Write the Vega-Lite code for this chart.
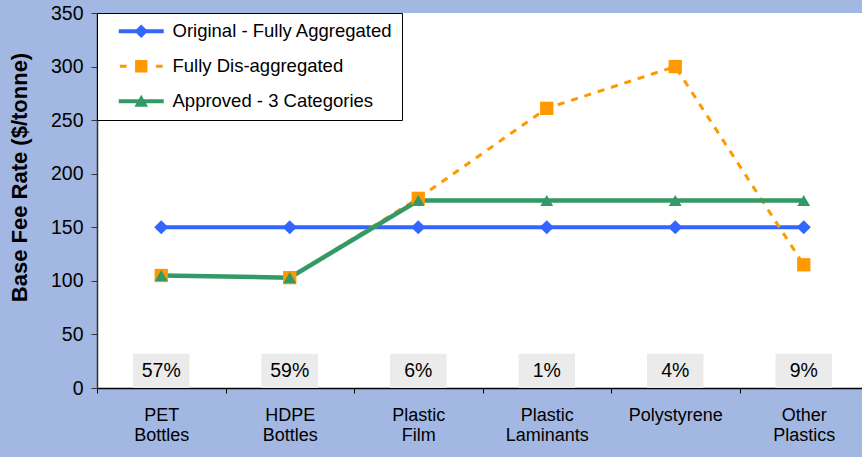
{
  "$schema": "https://vega.github.io/schema/vega-lite/v6.json",
  "width": 765,
  "height": 375,
  "autosize": {"type": "none"},
  "padding": {"left": 97, "top": 13, "right": 0, "bottom": 69},
  "background": "#a2b8e2",
  "datasets": {
    "rates": [
      {"category": "PET Bottles", "series": "Original - Fully Aggregated", "value": 150},
      {"category": "HDPE Bottles", "series": "Original - Fully Aggregated", "value": 150},
      {"category": "Plastic Film", "series": "Original - Fully Aggregated", "value": 150},
      {"category": "Plastic Laminants", "series": "Original - Fully Aggregated", "value": 150},
      {"category": "Polystyrene", "series": "Original - Fully Aggregated", "value": 150},
      {"category": "Other Plastics", "series": "Original - Fully Aggregated", "value": 150},
      {"category": "PET Bottles", "series": "Fully Dis-aggregated", "value": 105},
      {"category": "HDPE Bottles", "series": "Fully Dis-aggregated", "value": 103},
      {"category": "Plastic Film", "series": "Fully Dis-aggregated", "value": 177},
      {"category": "Plastic Laminants", "series": "Fully Dis-aggregated", "value": 261},
      {"category": "Polystyrene", "series": "Fully Dis-aggregated", "value": 300},
      {"category": "Other Plastics", "series": "Fully Dis-aggregated", "value": 115},
      {"category": "PET Bottles", "series": "Approved - 3 Categories", "value": 105},
      {"category": "HDPE Bottles", "series": "Approved - 3 Categories", "value": 103},
      {"category": "Plastic Film", "series": "Approved - 3 Categories", "value": 175},
      {"category": "Plastic Laminants", "series": "Approved - 3 Categories", "value": 175},
      {"category": "Polystyrene", "series": "Approved - 3 Categories", "value": 175},
      {"category": "Other Plastics", "series": "Approved - 3 Categories", "value": 175}
    ],
    "shares": [
      {"category": "PET Bottles", "share": "57%"},
      {"category": "HDPE Bottles", "share": "59%"},
      {"category": "Plastic Film", "share": "6%"},
      {"category": "Plastic Laminants", "share": "1%"},
      {"category": "Polystyrene", "share": "4%"},
      {"category": "Other Plastics", "share": "9%"}
    ]
  },
  "config": {
    "view": {"stroke": null, "fill": "white"},
    "font": "Liberation Sans",
    "axisX": {
      "labelExpr": "split(datum.label, ' ')",
      "labelFont": "Liberation Sans",
      "labelFontSize": 18,
      "labelColor": "black",
      "labelLineHeight": 20,
      "labelPadding": 13,
      "labelAngle": 0,
      "labelOverlap": false,
      "tickSize": 5,
      "tickBand": "extent",
      "tickColor": "black",
      "domainColor": "black",
      "domainWidth": 1.5,
      "grid": false
    },
    "axisY": {
      "labelFont": "Liberation Sans",
      "labelFontSize": 19.5,
      "labelColor": "black",
      "labelPadding": 8,
      "tickSize": 6,
      "tickColor": "#333",
      "domainColor": "#333",
      "domainWidth": 1.5,
      "grid": false,
      "values": [0, 50, 100, 150, 200, 250, 300, 350],
      "titleFont": "Liberation Sans",
      "titleFontSize": 22,
      "titleFontWeight": "bold",
      "titleColor": "black",
      "titleX": -78,
      "titleY": 164,
      "titleAlign": "center",
      "titleBaseline": "middle",
      "titleAngle": 270
    }
  },
  "layer": [
    {
      "data": {"name": "shares"},
      "mark": {"type": "bar", "width": {"band": 0.44}, "fill": "#ebebeb"},
      "encoding": {
        "x": {"field": "category", "type": "nominal", "title": null, "sort": null,
              "scale": {"domain": ["PET Bottles", "HDPE Bottles", "Plastic Film", "Plastic Laminants", "Polystyrene", "Other Plastics"], "range": [0, 771], "paddingInner": 0, "paddingOuter": 0}},
        "y": {"datum": 0, "type": "quantitative", "title": "Base Fee Rate ($/tonne)", "scale": {"domain": [0, 350], "nice": false}},
        "y2": {"datum": 32}
      }
    },
    {
      "data": {"name": "shares"},
      "mark": {"type": "text", "font": "Liberation Sans", "fontSize": 19.5, "color": "black", "baseline": "middle"},
      "encoding": {
        "x": {"field": "category", "type": "nominal", "title": null, "sort": null},
        "y": {"datum": 16, "type": "quantitative", "title": "Base Fee Rate ($/tonne)"},
        "text": {"field": "share"}
      }
    },
    {
      "mark": {"type": "rule", "color": "#555", "strokeWidth": 1.5},
      "encoding": {"y": {"datum": 350, "type": "quantitative", "title": "Base Fee Rate ($/tonne)"}}
    },
    {
      "data": {"name": "rates"},
      "transform": [{"filter": "datum.series === 'Original - Fully Aggregated'"}],
      "mark": {"type": "line", "strokeWidth": 4},
      "encoding": {
        "x": {"field": "category", "type": "nominal", "title": null, "sort": null},
        "y": {"field": "value", "type": "quantitative", "title": "Base Fee Rate ($/tonne)"},
        "color": {
          "field": "series", "type": "nominal",
          "scale": {"domain": ["Original - Fully Aggregated", "Fully Dis-aggregated", "Approved - 3 Categories"], "range": ["#3366ff", "#ff9900", "#339966"]},
          "legend": {
            "title": null,
            "orient": "top-left",
            "offset": 0,
            "fillColor": "white",
            "strokeColor": "black",
            "padding": 9,
            "rowPadding": 16,
            "symbolType": "square",
            "symbolSize": 169,
            "symbolOffset": 26,
            "labelOffset": 22,
            "labelFont": "Liberation Sans",
            "labelFontSize": 18.5,
            "labelColor": "black",
            "labelLimit": 400,
            "encode": {
              "symbols": {
                "update": {
                  "shape": {"signal": "datum.value === 'Original - Fully Aggregated' ? 'M-3.46,-0.3H3.46V0.3H-3.46Z M0,-1.05L1.05,0L0,1.05L-1.05,0Z' : datum.value === 'Fully Dis-aggregated' ? 'M-3.3,-0.22H-2.25V0.22H-3.3Z M2.25,-0.22H3.3V0.22H2.25Z M-0.95,-0.95H0.95V0.95H-0.95Z' : 'M-3.46,-0.3H3.46V0.3H-3.46Z M0,-1L1.05,0.85L-1.05,0.85Z'"},
                  "fill": {"signal": "scale('color', datum.value)"},
                  "fillOpacity": {"value": 1},
                  "opacity": {"value": 1},
                  "strokeWidth": {"value": 0}
                }
              }
            }
          }
        }
      }
    },
    {
      "data": {"name": "rates"},
      "transform": [{"filter": "datum.series === 'Fully Dis-aggregated'"}],
      "mark": {"type": "line", "strokeWidth": 3, "strokeDash": [7, 7]},
      "encoding": {
        "x": {"field": "category", "type": "nominal", "title": null, "sort": null},
        "y": {"field": "value", "type": "quantitative", "title": "Base Fee Rate ($/tonne)"},
        "color": {"field": "series", "type": "nominal"}
      }
    },
    {
      "data": {"name": "rates"},
      "transform": [{"filter": "datum.series === 'Approved - 3 Categories'"}],
      "mark": {"type": "line", "strokeWidth": 4.5},
      "encoding": {
        "x": {"field": "category", "type": "nominal", "title": null, "sort": null},
        "y": {"field": "value", "type": "quantitative", "title": "Base Fee Rate ($/tonne)"},
        "color": {"field": "series", "type": "nominal"}
      }
    },
    {
      "data": {"name": "rates"},
      "transform": [{"filter": "datum.series === 'Original - Fully Aggregated'"}],
      "mark": {"type": "point", "filled": true, "opacity": 1, "shape": "diamond", "size": 200},
      "encoding": {
        "x": {"field": "category", "type": "nominal", "title": null, "sort": null},
        "y": {"field": "value", "type": "quantitative", "title": "Base Fee Rate ($/tonne)"},
        "color": {"field": "series", "type": "nominal"}
      }
    },
    {
      "data": {"name": "rates"},
      "transform": [{"filter": "datum.series === 'Fully Dis-aggregated'"}],
      "mark": {"type": "point", "filled": true, "opacity": 1, "shape": "square", "size": 177},
      "encoding": {
        "x": {"field": "category", "type": "nominal", "title": null, "sort": null},
        "y": {"field": "value", "type": "quantitative", "title": "Base Fee Rate ($/tonne)"},
        "color": {"field": "series", "type": "nominal"}
      }
    },
    {
      "data": {"name": "rates"},
      "transform": [{"filter": "datum.series === 'Approved - 3 Categories'"}],
      "mark": {"type": "point", "filled": true, "opacity": 1, "shape": "triangle-up", "size": 165},
      "encoding": {
        "x": {"field": "category", "type": "nominal", "title": null, "sort": null},
        "y": {"field": "value", "type": "quantitative", "title": "Base Fee Rate ($/tonne)"},
        "color": {"field": "series", "type": "nominal"}
      }
    }
  ]
}
